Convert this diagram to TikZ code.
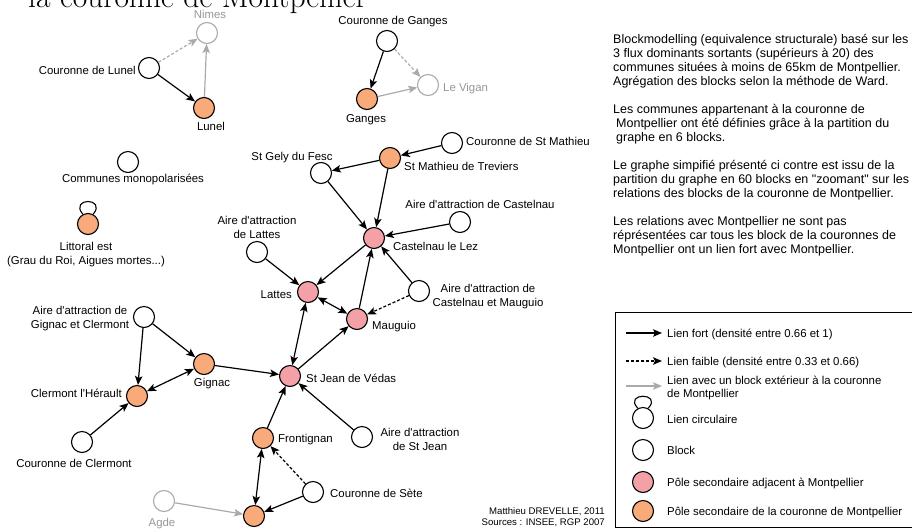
\documentclass[tikz,border=0pt]{standalone}
\usepackage{fontspec}
\newfontfamily\arial{Liberation Sans}
\usetikzlibrary{arrows.meta}
\definecolor{orng}{RGB}{248,170,122}
\definecolor{pnk}{RGB}{243,161,167}
\definecolor{gry}{RGB}{170,170,170}
\definecolor{gtxt}{RGB}{150,150,150}
\begin{document}
\begin{tikzpicture}[x=1pt,y=-1pt,
  >={Stealth[length=9pt,width=7.5pt,inset=2pt]},
  blk/.style={circle, draw=black, line width=1.1pt, fill=white, minimum size=21pt, inner sep=0pt},
  orn/.style={blk, fill=orng},
  pk/.style={blk, fill=pnk},
  ext/.style={blk, draw=gry},
  lbl/.style={font=\arial\fontsize{11.4}{14}\selectfont, inner sep=0pt, text height=8.2pt, text depth=0pt, align=center},
  glbl/.style={lbl, text=gtxt},
  rtxt/.style={font=\arial\fontsize{12.5}{14}\selectfont, inner sep=0pt, text height=9pt, text depth=0pt, anchor=west},
  strong/.style={->, line width=1.2pt},
  weak/.style={->, line width=1.2pt, dash pattern=on 3pt off 2pt},
  extl/.style={->, draw=gry, line width=1.2pt},
  extd/.style={extl, dash pattern=on 3pt off 2pt},
  both/.style={<->, line width=1.2pt},
  loopln/.style={line width=1.1pt}
]
\useasboundingbox (0,0) rectangle (912,531);

% title (cut by the top edge)
\node[font=\fontsize{31.5}{34}\selectfont, anchor=base east, inner sep=0pt] (title) at (367,7) {la couronne de Montpellier};

% nodes
\node[ext] (Nimes) at (207,33) {};
\node[blk] (CLunel) at (149,68) {};
\node[orn] (Lunel) at (204,108) {};
\node[blk] (CGanges) at (387,41) {};
\node[orn] (Ganges) at (367,99) {};
\node[ext] (Vigan) at (428,85) {};
\node[blk] (Mono) at (128,162) {};
\node[blk] (Gely) at (321,173) {};
\node[orn] (Mathieu) at (390,158) {};
\node[blk] (CMathieu) at (452,143) {};
\node[blk] (ACast) at (460,222) {};
\node[pk] (Cast) at (374,238) {};
\node[blk] (ALattes) at (257,252) {};
\node[pk] (Lattes) at (308,292) {};
\node[pk] (Maug) at (357,319) {};
\node[blk] (ACM) at (419,291) {};
\node[orn] (Lit) at (88,224) {};
\node[blk] (AGig) at (144,317) {};
\node[orn] (Gignac) at (204,364) {};
\node[pk] (StJean) at (290,376) {};
\node[orn] (Clermont) at (137,396) {};
\node[blk] (CClermont) at (82,442) {};
\node[orn] (Front) at (263,438) {};
\node[blk] (AStJean) at (362,437) {};
\node[blk] (CSete) at (313,492) {};
\node[orn] (Sete) at (254,516) {};
\node[ext] (Agde) at (164,501) {};

% labels (for two-line labels, the y given is that of the last line)
\node[glbl] (tNimes) at (210,14) {Nimes};
\node[lbl, anchor=east] (tCLunel) at (136,70) {Couronne de Lunel};
\node[lbl] (tLunel) at (211,126) {Lunel};
\node[lbl] (tCGanges) at (393,20) {Couronne de Ganges};
\node[lbl] (tGanges) at (366,118) {Ganges};
\node[glbl, anchor=west] (tVigan) at (443,87) {Le Vigan};
\node[lbl] (tMono) at (133,178) {Communes monopolarisées};
\node[lbl] (tGely) at (292,156) {St Gely du Fesc};
\node[lbl, anchor=west] (tMathieu) at (404,166) {St Mathieu de Treviers};
\node[lbl, anchor=west] (tCMathieu) at (466,141) {Couronne de St Mathieu};
\node[lbl] (tACast) at (480,204) {Aire d'attraction de Castelnau};
\node[lbl, anchor=west] (tCast) at (393,246) {Castelnau le Lez};
\node[lbl] (tALattes) at (257,234) {Aire d'attraction\\de Lattes};
\node[lbl, anchor=east] (tLattes) at (292,294) {Lattes};
\node[lbl, anchor=west] (tMaug) at (372,325) {Mauguio};
\node[lbl] (tACM) at (488,302) {Aire d'attraction de\\Castelnau et Mauguio};
\node[lbl] (tLit) at (86,260) {Littoral est\\(Grau du Roi, Aigues mortes...)};
\node[lbl] (tAGig) at (80,324) {Aire d'attraction de\\Gignac et Clermont};
\node[lbl] (tGignac) at (212,382) {Gignac};
\node[lbl, anchor=west] (tStJean) at (306,378) {St Jean de Védas};
\node[lbl, anchor=east] (tClermont) at (122,393) {Clermont l'Hérault};
\node[lbl] (tCClermont) at (74,463) {Couronne de Clermont};
\node[lbl, anchor=west] (tFront) at (278,438) {Frontignan};
\node[lbl] (tAStJean) at (420,446) {Aire d'attraction\\de St Jean};
\node[lbl, anchor=west] (tCSete) at (330,493) {Couronne de Sète};
\node[glbl] (tAgde) at (162,522) {Agde};
\node[font=\arial\fontsize{9.6}{10.6}\selectfont, inner sep=0pt, align=right, anchor=east, text height=7pt, text depth=0pt] (credit) at (605,522) {Matthieu DREVELLE, 2011\\Sources : INSEE, RGP 2007};

% edges
\draw[extd] (CLunel) -- (Nimes);
\draw[extl] (Lunel) -- (Nimes);
\draw[strong] (CLunel) -- (Lunel);
\draw[strong] (CGanges) -- (Ganges);
\draw[extd] (CGanges) -- (Vigan);
\draw[extl] (Ganges) -- (Vigan);
\draw[strong] (CMathieu) -- (Mathieu);
\draw[strong] (Mathieu) -- (Gely);
\draw[strong] (Mathieu) -- (Cast);
\draw[strong] (Gely) -- (Cast);
\draw[strong] (ACast) -- (Cast);
\draw[strong] (Cast) -- (Lattes);
\draw[strong] (ALattes) -- (Lattes);
\draw[both] (Lattes) -- (Maug);
\draw[strong] (Maug) -- (Cast);
\draw[strong] (ACM) -- (Cast);
\draw[weak] (ACM) -- (Maug);
\draw[both] (Lattes) -- (StJean);
\draw[strong] (StJean) -- (Maug);
\draw[strong] (Gignac) -- (StJean);
\draw[strong] (AGig) -- (Gignac);
\draw[strong] (AGig) -- (Clermont);
\draw[both] (Gignac) -- (Clermont);
\draw[strong] (CClermont) -- (Clermont);
\draw[strong] (Front) -- (StJean);
\draw[strong] (AStJean) -- (StJean);
\draw[both] (Front) -- (Sete);
\draw[weak] (CSete) -- (Front);
\draw[strong] (CSete) -- (Sete);
\draw[extl] (Agde) -- (Sete);
\draw[loopln] (Lit.118) .. controls +(-14,-17) and +(14,-17) .. (Lit.62);

% right text
\foreach \y/\t [count=\i] in {
  39/{Blockmodelling (equivalence structurale) basé sur les},
  53/{3 flux dominants sortants (supérieurs à 20) des},
  67/{communes situées à moins de 65km de Montpellier.},
  81/{Agrégation des blocks selon la méthode de Ward.},
  109/{Les communes appartenant à la couronne de},
  123/{\hspace{3pt}Montpellier ont été définies grâce à la partition du},
  137/{\hspace{3pt}graphe en 6 blocks.},
  165/{Le graphe simpifié présenté ci contre est issu de la},
  179/{partition du graphe en 60 blocks en "zoomant" sur les},
  193/{relations des blocks de la couronne de Montpellier.},
  221/{Les relations avec Montpellier ne sont pas},
  235/{réprésentées car tous les block de la couronnes de},
  249/{Montpellier ont un lien fort avec Montpellier.}}
  \node[rtxt] (rt\i) at (613,\y) {\t};

% legend
\draw[line width=0.9pt] (615,312) rectangle (918,527);
\coordinate (la1) at (626,333); \coordinate (lb1) at (662,333);
\coordinate (la2) at (626,361); \coordinate (lb2) at (662,361);
\coordinate (la3) at (626,386); \coordinate (lb3) at (662,386);
\draw[strong] (la1) -- (lb1);
\draw[weak] (la2) -- (lb2);
\draw[extl] (la3) -- (lb3);
\node[blk] (lgLoop) at (643,418) {};
\draw[loopln] (lgLoop.118) .. controls +(-15,-16) and +(15,-16) .. (lgLoop.62);
\node[blk] (lgBlock) at (643,450) {};
\node[pk] (lgPink) at (643,482) {};
\node[orn] (lgOrange) at (643,511) {};
\node[lbl, anchor=west] (lt1) at (667,333) {Lien fort (densité entre 0.66 et 1)};
\node[lbl, anchor=west] (lt2) at (667,361) {Lien faible (densité entre 0.33 et 0.66)};
\node[lbl, anchor=west, align=left, font=\arial\fontsize{11.4}{13}\selectfont] (lt3) at (667,393) {Lien avec un block extérieur à la couronne\\de Montpellier};
\node[lbl, anchor=west] (lt4) at (667,419) {Lien circulaire};
\node[lbl, anchor=west] (lt5) at (667,450) {Block};
\node[lbl, anchor=west] (lt6) at (667,482) {Pôle secondaire adjacent à Montpellier};
\node[lbl, anchor=west] (lt7) at (667,511) {Pôle secondaire de la couronne de Montpellier};
\end{tikzpicture}
\end{document}
